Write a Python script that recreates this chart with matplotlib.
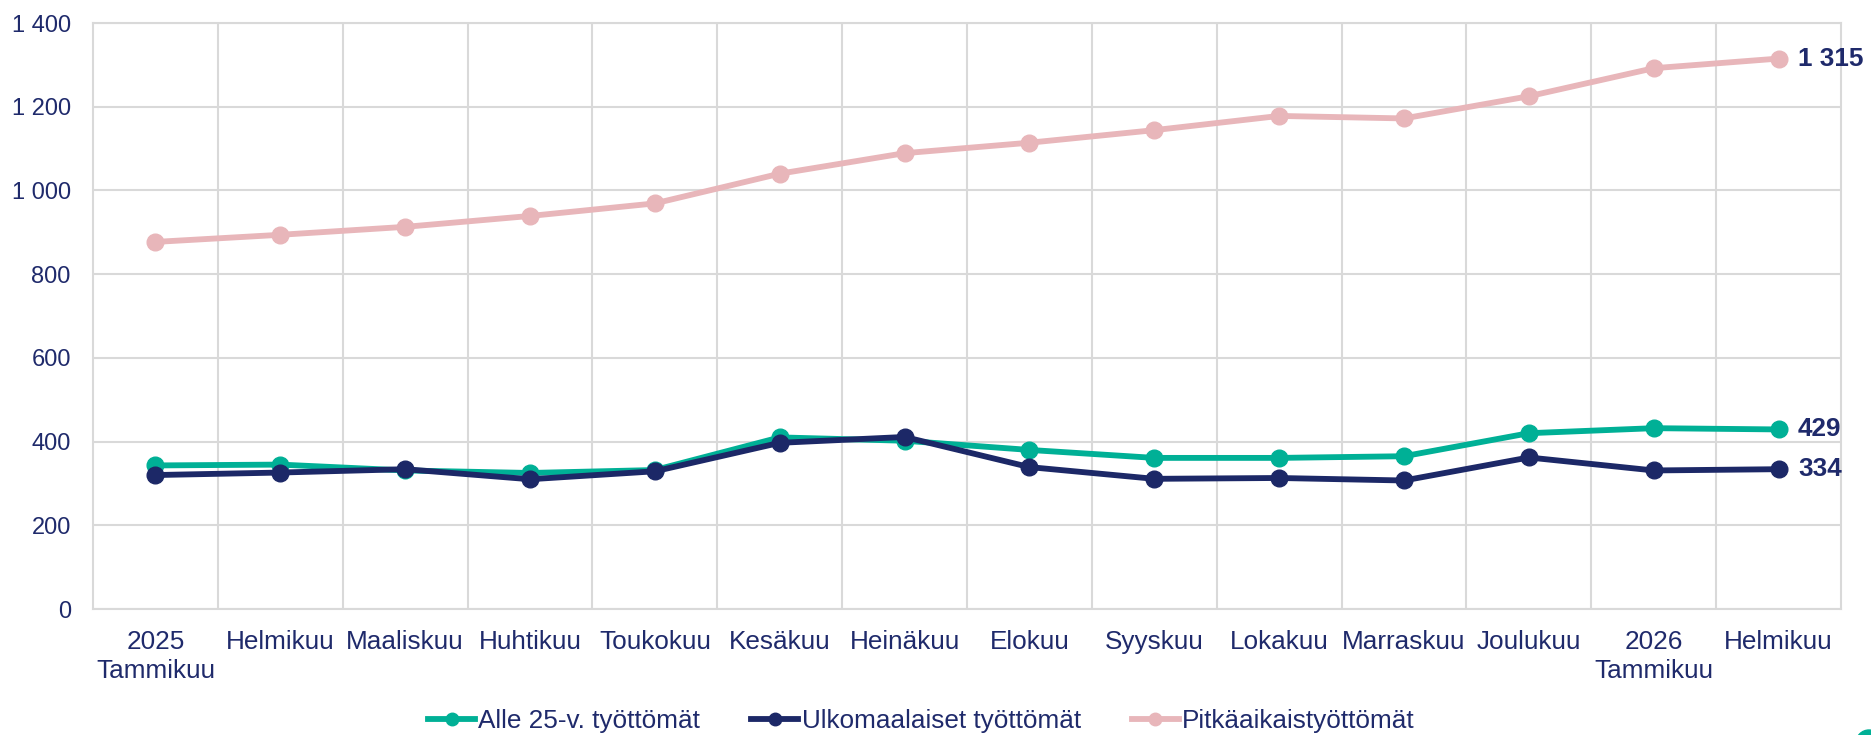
import matplotlib
matplotlib.use("Agg")
import matplotlib.pyplot as plt
from matplotlib.ticker import FuncFormatter, FixedLocator
from matplotlib.patches import Ellipse

plt.rcParams['font.family'] = ['Liberation Sans', 'DejaVu Sans']

categories = ["2025\nTammikuu", "Helmikuu", "Maaliskuu", "Huhtikuu", "Toukokuu",
              "Kesäkuu", "Heinäkuu", "Elokuu", "Syyskuu", "Lokakuu", "Marraskuu",
              "Joulukuu", "2026\nTammikuu", "Helmikuu"]
alle25 = [343, 345, 331, 325, 332, 410, 402, 380, 361, 361, 365, 420, 432, 429]
ulkomaalaiset = [320, 326, 334, 310, 329, 397, 411, 339, 311, 313, 307, 362, 331, 334]
pitkaaikais = [877, 894, 913, 939, 969, 1040, 1089, 1114, 1144, 1178, 1172, 1225, 1292, 1315]
series_names = ["Alle 25-v. työttömät", "Ulkomaalaiset työttömät", "Pitkäaikaistyöttömät"]
yticks = [0, 200, 400, 600, 800, 1000, 1200, 1400]

GREEN = "#00B096"
NAVY = "#1C2867"
PINK = "#E8B6BA"
TEXT = "#1F2A6B"
GRID = "#D9D9D9"
FS_Y = 17
FS = 18.8

fig = plt.figure(figsize=(18.71, 7.35), dpi=100)
ax = fig.add_axes([93/1871, 1-609/735, (1841-93)/1871, (609-23)/735])

x = list(range(len(categories)))
lw = 4.2
ms = 12
ax.plot(x, pitkaaikais, color=PINK, lw=lw, marker='o', ms=ms, label=series_names[2], zorder=3)
ax.plot(x, alle25, color=GREEN, lw=lw, marker='o', ms=ms, label=series_names[0], zorder=4)
ax.plot(x, ulkomaalaiset, color=NAVY, lw=lw, marker='o', ms=ms, label=series_names[1], zorder=5)

ax.set_xlim(-0.5, len(categories) - 0.5)
ax.set_ylim(0, 1400)
ax.set_yticks(yticks)
ax.yaxis.set_major_formatter(FuncFormatter(lambda v, p: f"{int(v):,}".replace(",", " ")))
ax.set_xticks(x)
ax.set_xticklabels(categories)
ax.xaxis.set_minor_locator(FixedLocator([i + 0.5 for i in range(len(categories) - 1)]))
ax.tick_params(axis='both', which='both', length=0, colors=TEXT)
ax.tick_params(axis='y', pad=16, labelsize=FS_Y)
ax.tick_params(axis='x', pad=15, labelsize=FS)
for lab in ax.get_xticklabels():
    lab.set_linespacing(1.28)

ax.grid(axis='y', which='major', color=GRID, lw=1.5, zorder=0)
ax.grid(axis='x', which='minor', color=GRID, lw=1.5, zorder=0)
ax.grid(axis='x', which='major', visible=False)
for s in ax.spines.values():
    s.set_color(GRID)
    s.set_linewidth(1.5)
ax.set_axisbelow(True)

def fmt(v):
    return f"{v:,}".replace(",", " ")

for vals in (pitkaaikais, alle25, ulkomaalaiset):
    ax.annotate(fmt(vals[-1]), xy=(x[-1], vals[-1]), xytext=(14, 0), textcoords='offset points',
                ha='left', va='center', fontsize=FS, fontweight='bold', color=TEXT,
                annotation_clip=False)

handles, labels = ax.get_legend_handles_labels()
order = [1, 2, 0]
leg = fig.legend([handles[i] for i in order], [labels[i] for i in order],
                 loc='center', bbox_to_anchor=(921.5/1871, 1-721/735), ncol=3, frameon=False,
                 fontsize=FS, handlelength=1.8, handletextpad=0.12, columnspacing=1.96,
                 markerscale=0.75)
for t in leg.get_texts():
    t.set_color(TEXT)

fig.patches.append(Ellipse((1869/1871, 1-743/735), 26/1871, 26/735, transform=fig.transFigure,
                           color=GREEN, clip_on=False))

fig.savefig("out.png", dpi=100)
